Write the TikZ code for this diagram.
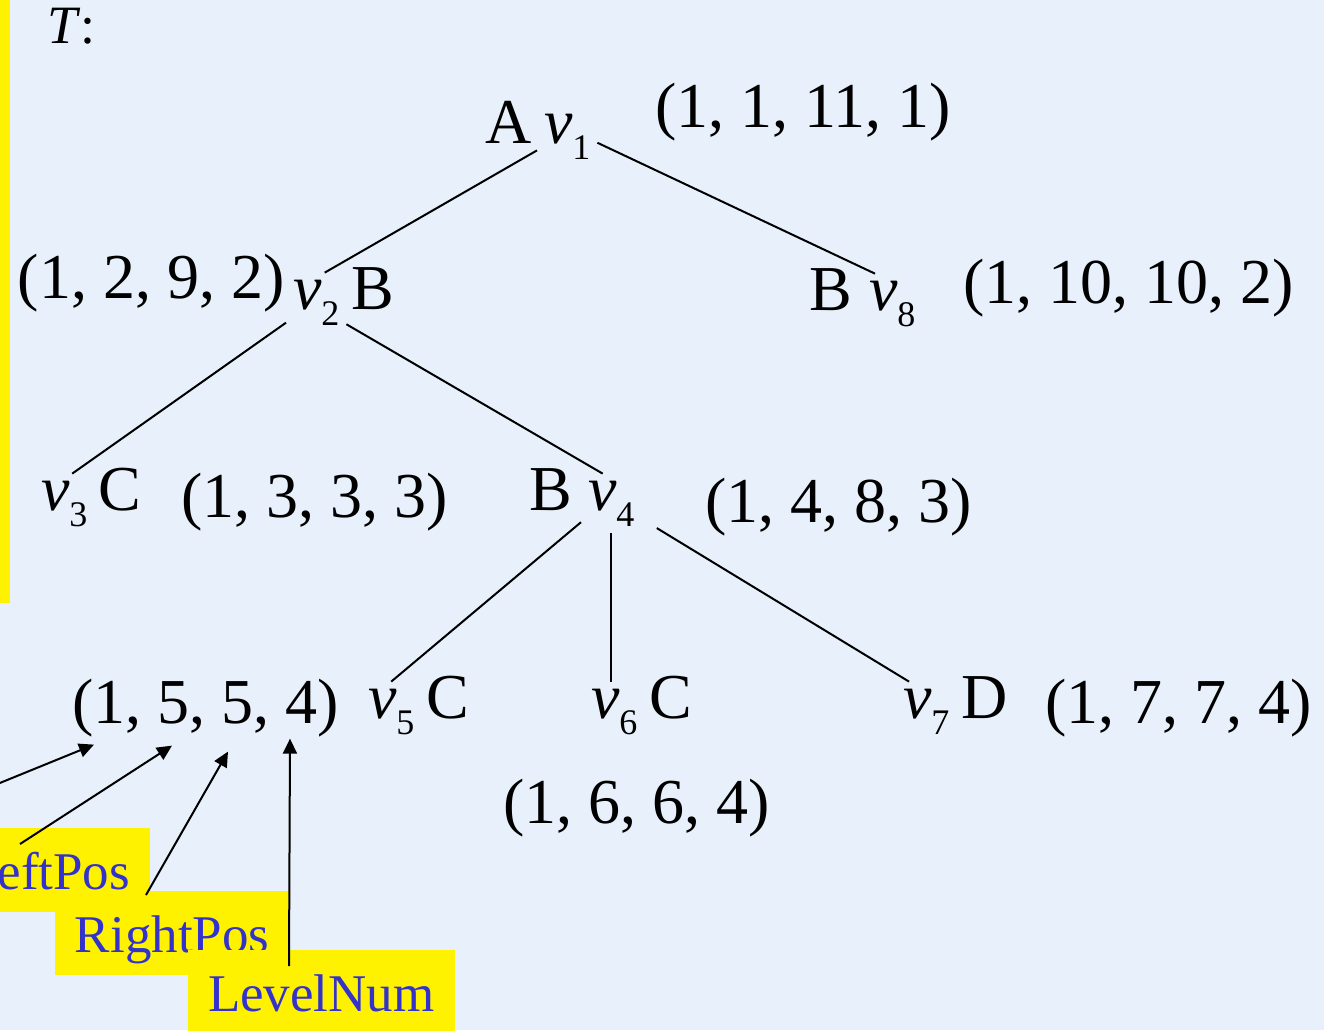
\documentclass[tikz,border=0pt]{standalone}
\usepackage{fontspec}
\setmainfont{Liberation Serif}
\usetikzlibrary{arrows.meta}
\definecolor{bgblue}{RGB}{232,241,251}
\definecolor{tagblue}{RGB}{51,51,204}
\newcommand{\vtx}[1]{\textit{v}\raisebox{-8pt}{\fontsize{18}{18}\selectfont #1}}

\begin{document}
\begin{tikzpicture}[x=0.5pt, y=-0.5pt, >={Triangle[length=7.5pt,width=7pt]}, line width=1pt,
    font=\fontsize{32}{38}\selectfont,
    txt/.style={inner sep=0pt, anchor=base west},
    vertex/.style={inner sep=3pt, anchor=base west},
    tag/.style={fill=yellow, text=tagblue, font=\fontsize{26.5}{30}\selectfont,
        inner xsep=10pt, inner ysep=0pt, text height=30.5pt, text depth=11.5pt, anchor=base west}]
    % Slide
    \clip (0,0) rectangle (1324,1030);
    \fill[bgblue] (0,0) rectangle (1324,1030);
    \fill[yellow] (0,0) rectangle (10,603);
    \node[txt, font=\fontsize{27}{32}\selectfont] (title) at (46,43) {\textit{T}:};
    % Vertices
    \node[vertex] (v1) at (537,143) {\vtx{1}};
    \node[vertex] (v2) at (286,309) {\vtx{2}};
    \node[vertex] (v8) at (862,310) {\vtx{8}};
    \node[vertex] (v3) at (34,510) {\vtx{3}};
    \node[vertex] (v4) at (581,510) {\vtx{4}};
    \node[vertex] (v5) at (361,718) {\vtx{5}};
    \node[vertex] (v6) at (584,718) {\vtx{6}};
    \node[vertex] (v7) at (896,718) {\vtx{7}};
    % Letters
    \node[txt] (a1) at (484,143) {A};
    \node[txt] (b2) at (350,309) {B};
    \node[txt] (b8) at (808,310) {B};
    \node[txt] (c3) at (97,510) {C};
    \node[txt] (b4) at (528,510) {B};
    \node[txt] (c5) at (425,718) {C};
    \node[txt] (c6) at (648,718) {C};
    \node[txt] (d7) at (960,718) {D};
    % Tuples
    \node[txt] (t1) at (654,127) {(1, 1, 11, 1)};
    \node[txt] (t2) at (17,298) {(1, 2, 9, 2)};
    \node[txt] (t8) at (962,303) {(1, 10, 10, 2)};
    \node[txt] (t3) at (180,517) {(1, 3, 3, 3)};
    \node[txt] (t4) at (704,522) {(1, 4, 8, 3)};
    \node[txt] (t5) at (71,723) {(1, 5, 5, 4)};
    \node[txt] (t6) at (502,823) {(1, 6, 6, 4)};
    \node[txt] (t7) at (1044,723) {(1, 7, 7, 4)};
    % Edges
    \draw (v1.205) -- (v2.74);
    \draw (v1.348) -- (v8.120);
    \draw (v2.214) -- (v3.75);
    \draw (v2.324) -- (v4.106);
    \draw (v4.212) -- (v5.north);
    \draw (v4.south) -- (v4.south |- v6.north);
    \draw[shorten <=9pt] (v4.333) -- (v7.120);
    % Field names
    \node[tag, anchor=base east] (leftpos) at (151,889) {LeftPos};
    \node[tag] (rightpos) at (54,952) {RightPos};
    \node[tag] (levelnum) at (187,1011) {LevelNum};
    \coordinate (numtail) at (-10,787);
    \draw[->] (numtail) -- ([shift={(23,7)}]t5.south west);
    \draw[->] ([shift={(-131,17)}]leftpos.north east) -- ([shift={(101,8)}]t5.south west);
    \draw[->] ([shift={(92,5)}]rightpos.north west) -- ([shift={(157,14)}]t5.south west);
    \draw[->] ([shift={(102,17)}]levelnum.north west) -- ([shift={(219,1)}]t5.south west);
\end{tikzpicture}
\end{document}
